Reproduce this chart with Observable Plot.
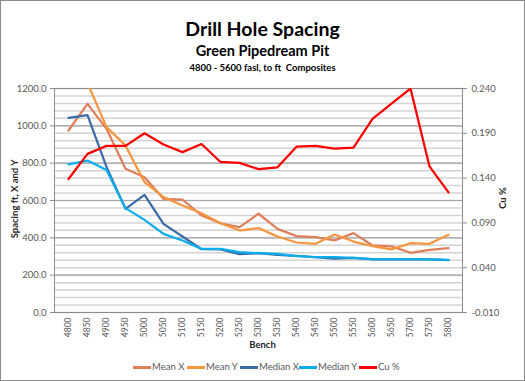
<!DOCTYPE html>
<html><head><meta charset="utf-8">
<script src="https://cdn.jsdelivr.net/npm/d3@7"></script>
<script src="https://cdn.jsdelivr.net/npm/@observablehq/plot@0.6"></script>
<style>
html,body{margin:0;padding:0;background:#fff;}
#wrap{position:relative;width:525px;height:381px;font-family:Lato,"Open Sans",sans-serif;overflow:hidden;background:#fff;}
#wrap svg{position:absolute;left:0;top:0;}
.border{position:absolute;left:0;top:0;width:525px;height:381px;box-sizing:border-box;border:1px solid #8a8a8a;pointer-events:none;}
.t{position:absolute;left:0;width:525px;text-align:center;font-weight:bold;color:#000;line-height:1;white-space:nowrap;}
.rot{position:absolute;width:200px;text-align:center;font-weight:bold;font-size:9.5px;line-height:10px;color:#262626;transform:rotate(-90deg);transform-origin:center center;white-space:nowrap;}
.leg{position:absolute;font-size:9.5px;color:#595959;line-height:10px;white-space:nowrap;}
.sw{position:absolute;height:2.5px;width:18px;}
</style></head><body>
<div id="wrap">
  <div class="t" style="top:19px;font-size:19.5px;">Drill Hole Spacing</div>
  <div class="t" style="top:44px;font-size:14.5px;">Green Pipedream Pit</div>
  <div class="t" style="top:63px;font-size:9.5px;">4800 - 5600 fasl, to ft&nbsp; Composites</div>
  <div class="rot" style="left:-85px;top:194px;">Spacing ft, X and Y</div>
  <div class="rot" style="left:403px;top:193px;">Cu %</div>
  <div class="t" style="top:340px;font-size:9.5px;color:#262626;">Bench</div>
  <div id="legend"></div>
  <div class="border"></div>
</div>
<script>
const benches = [4800,4850,4900,4950,5000,5050,5100,5150,5200,5250,5300,5350,5400,5450,5500,5550,5600,5650,5700,5750,5800];
const meanX   = [975,1118,984,770,725,609,605,520,478,457,529,448,409,404,386,425,359,354,320,336,345];
const meanY   = [1380,1230,993,895,698,618,573,532,478,439,452,407,375,368,418,380,355,338,371,368,416];
const medianX = [1043,1057,780,555,630,475,407,339,338,313,318,309,304,296,288,293,284,284,284,284,280];
const medianY = [793,814,764,559,496,421,386,341,341,323,318,314,302,296,296,293,286,286,286,284,282];
const cuPct   = [0.139,0.167,0.176,0.176,0.190,0.1775,0.169,0.178,0.158,0.157,0.150,0.152,0.175,0.176,0.173,0.174,0.206,0.223,0.240,0.153,0.124];
const leftTicks = [0,200,400,600,800,1000,1200];
const rightTicks = [-0.01,0.04,0.09,0.14,0.19,0.24];
const seriesNames = ["Mean X","Mean Y","Median X","Median Y","Cu %"];
const seriesColors = ["#E07F5C","#F7963F","#3B6CA7","#0BAEEB","#FF0000"];

const primary = [meanX, meanY, medianX, medianY];
const rows = [];
primary.forEach((vals, s) => vals.forEach((v, i) => rows.push({bench: benches[i], value: v, series: seriesNames[s]})));
const cuRows = cuPct.map((v, i) => ({bench: benches[i], value: v}));

const W = 525, H = 381;
const margins = {marginLeft: 54, marginRight: 63, marginTop: 88, marginBottom: 69};
const style = {fontFamily: "Lato, 'Open Sans', sans-serif", fontSize: "9.5px", color: "#595959", background: "transparent", overflow: "visible"};
const minor = d3.range(0, 1201, 40);

const p1 = Plot.plot({
  width: W, height: H, ...margins, style,
  x: {type: "point", domain: benches, padding: 0.5, axis: null},
  y: {domain: [0, 1200], axis: null},
  color: {domain: seriesNames, range: seriesColors},
  marks: [
    Plot.ruleY(minor, {stroke: "#d4d4d4", strokeWidth: 1.5}),
    Plot.ruleY(leftTicks, {stroke: "#a6a6a6", strokeWidth: 1.2}),
    Plot.frame({stroke: "#8c8c8c"}),
    Plot.axisY({ticks: leftTicks, tickSize: 4, tickPadding: 4, tickFormat: d => d.toFixed(1), label: null, stroke: "#8c8c8c"}),
    Plot.axisX({tickRotate: -90, tickSize: 0, tickPadding: 5, tickFormat: d => String(d), label: null, fontSize: 8.5}),
    ...seriesNames.slice(0, 4).map(n =>
      Plot.line(rows.filter(r => r.series === n), {x: "bench", y: "value", stroke: "series", strokeWidth: 2.25, clip: true})
    )
  ]
});

const p2 = Plot.plot({
  width: W, height: H, ...margins, style,
  x: {type: "point", domain: benches, padding: 0.5, axis: null},
  y: {domain: [-0.01, 0.24], axis: null},
  marks: [
    Plot.axisY({anchor: "right", ticks: rightTicks, tickSize: 4, tickPadding: 5, tickFormat: d => d.toFixed(3), label: null, stroke: "#8c8c8c"}),
    Plot.line(cuRows, {x: "bench", y: "value", stroke: seriesColors[4], strokeWidth: 2.25, clip: true})
  ]
});

const wrap = document.getElementById("wrap");
wrap.insertBefore(p1, wrap.firstChild);
wrap.insertBefore(p2, p1.nextSibling);

const legX = [133, 187, 240, 299, 359];
const leg = document.getElementById("legend");
seriesNames.forEach((n, i) => {
  const sw = document.createElement("div");
  sw.className = "sw";
  sw.style.left = legX[i] + "px";
  sw.style.top = "366px";
  sw.style.background = seriesColors[i];
  leg.appendChild(sw);
  const lb = document.createElement("div");
  lb.className = "leg";
  lb.style.left = (legX[i] + 19) + "px";
  lb.style.top = "362px";
  lb.textContent = n;
  leg.appendChild(lb);
});
</script>
</body></html>
